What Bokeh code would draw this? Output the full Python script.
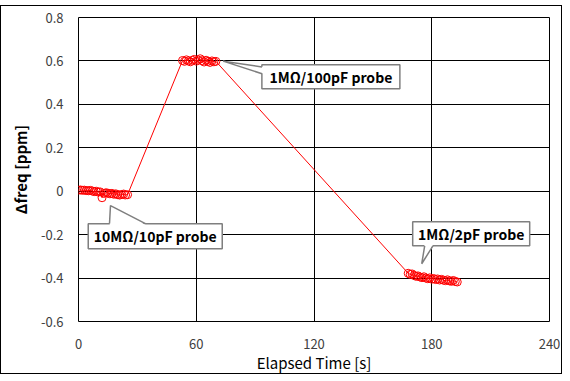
from bokeh.plotting import figure
from bokeh.models import FixedTicker, Range1d
from bokeh.embed import file_html
from bokeh.resources import INLINE
from bokeh.core.properties import value

# ---- data ----
t1 = [0, 1, 2, 3, 4, 5, 6, 7, 8, 9, 10, 11, 12, 13, 14, 15, 16, 17, 18, 19, 20, 21, 22, 23, 24, 25]
v1 = [0.005, 0.006, 0.004, 0.005, 0.003, 0.002, 0.004, 0.001, -0.002, 0.000, -0.004, -0.003, -0.030,
      -0.010, -0.007, -0.009, -0.012, -0.010, -0.014, -0.012, -0.016, -0.018, -0.015, -0.013, -0.017, -0.016]
t2 = [53, 54, 55, 56, 57, 58, 59, 60, 61, 62, 63, 64, 65, 66, 67, 68, 69, 70]
v2 = [0.602, 0.598, 0.605, 0.600, 0.596, 0.603, 0.607, 0.599, 0.604, 0.610,
      0.601, 0.595, 0.603, 0.598, 0.593, 0.600, 0.596, 0.598]
t3 = [168, 169, 170, 171, 172, 173, 174, 175, 176, 177, 178, 179, 180, 181, 182, 183, 184, 185,
      186, 187, 188, 189, 190, 191, 192, 193]
v3 = [-0.378, -0.383, -0.381, -0.388, -0.392, -0.390, -0.395, -0.398, -0.394, -0.400, -0.403, -0.399,
      -0.405, -0.402, -0.407, -0.404, -0.409, -0.406, -0.410, -0.412, -0.408, -0.413, -0.415, -0.411,
      -0.416, -0.418]

x_ticks = [0, 60, 120, 180, 240]
y_ticks = [-0.6, -0.4, -0.2, 0, 0.2, 0.4, 0.6, 0.8]
y_tick_labels = ["-0.6", "-0.4", "-0.2", "0", "0.2", "0.4", "0.6", "0.8"]

# callouts: text, box center (data), box size (px), wedge tip, wedge base points
callout_texts = ["10M\u03a9/10pF probe", "1M\u03a9/100pF probe", "1M\u03a9/2pF probe"]
box_cx = [39.1, 128.6, 200.1]
box_cy = [-0.207, 0.527, -0.196]
box_w = [134, 138, 117]
box_h = [25, 24, 24]
wedge_x = [[16.3, 15.8, 34.1], [73.7, 93.5, 93.5], [174.9, 176.4, 180.6]]
wedge_y = [[-0.066, -0.149, -0.149], [0.599, 0.572, 0.541], [-0.334, -0.252, -0.252]]
wedge_fx = [[16.3, 15.9, 34.3], [73.7, 94.5, 94.5], [174.9, 176.3, 180.8]]
wedge_fy = [[-0.066, -0.156, -0.156], [0.599, 0.572, 0.541], [-0.334, -0.245, -0.245]]

FONT = "Noto Sans CJK KR"

p = figure(width=562, height=369, output_backend="svg", toolbar_location=None,
           x_range=Range1d(0, 240), y_range=Range1d(-0.6, 0.8),
           min_border_left=77, min_border_right=14, min_border_top=11, min_border_bottom=50,
           styles={"margin-top": "5px", "border": "1px solid black", "box-sizing": "border-box"})
p.background_fill_color = "white"
p.border_fill_color = "white"
p.outline_line_color = "black"
p.outline_line_width = 1

for ax in (p.xaxis[0], p.yaxis[0]):
    ax.axis_line_color = None
    ax.major_tick_line_color = None
    ax.minor_tick_line_color = None
    ax.major_label_text_font = FONT
    ax.major_label_text_font_size = "13px"
    ax.major_label_text_color = "#404040"
    ax.axis_label_text_font = FONT
    ax.axis_label_text_color = "black"

p.xaxis.ticker = FixedTicker(ticks=x_ticks)
p.yaxis.ticker = FixedTicker(ticks=y_ticks)
p.yaxis.major_label_overrides = {t: l for t, l in zip(y_ticks, y_tick_labels)}
p.xaxis.axis_label = "Elapsed Time [s]"
p.yaxis.axis_label = "\u0394freq [ppm]"
p.xaxis.axis_label_text_font_size = "15px"
p.xaxis.axis_label_text_font_style = "normal"
p.yaxis.axis_label_text_font_size = "15px"
p.yaxis.axis_label_text_font_style = "bold"
p.xaxis.major_label_standoff = 11
p.yaxis.major_label_standoff = 9
p.xaxis.axis_label_standoff = 0
p.yaxis.axis_label_standoff = 7

p.xgrid.grid_line_color = "black"
p.ygrid.grid_line_color = "black"

tx = t1 + t2 + t3
vy = v1 + v2 + v3
p.line(tx, vy, line_color="red", line_width=1)
p.scatter(tx, vy, marker="circle", size=8, fill_color=None, line_color="red", line_width=1)

p.rect(box_cx, box_cy, width=box_w, height=box_h, width_units="screen", height_units="screen",
       fill_color="white", line_color="#7f7f7f", line_width=1.5)
for fx, fy, wx, wy in zip(wedge_fx, wedge_fy, wedge_x, wedge_y):
    p.patch(fx, fy, fill_color="white", line_color=None)
    p.line([wx[1], wx[0], wx[2]], [wy[1], wy[0], wy[2]], line_color="#7f7f7f", line_width=1.5)
p.text(box_cx, box_cy, text=callout_texts, text_align="center", text_baseline="middle",
       text_font=value(FONT), text_font_size="14px", text_font_style="bold", text_color="black")

open("out.html", "w").write(file_html(p, INLINE))
